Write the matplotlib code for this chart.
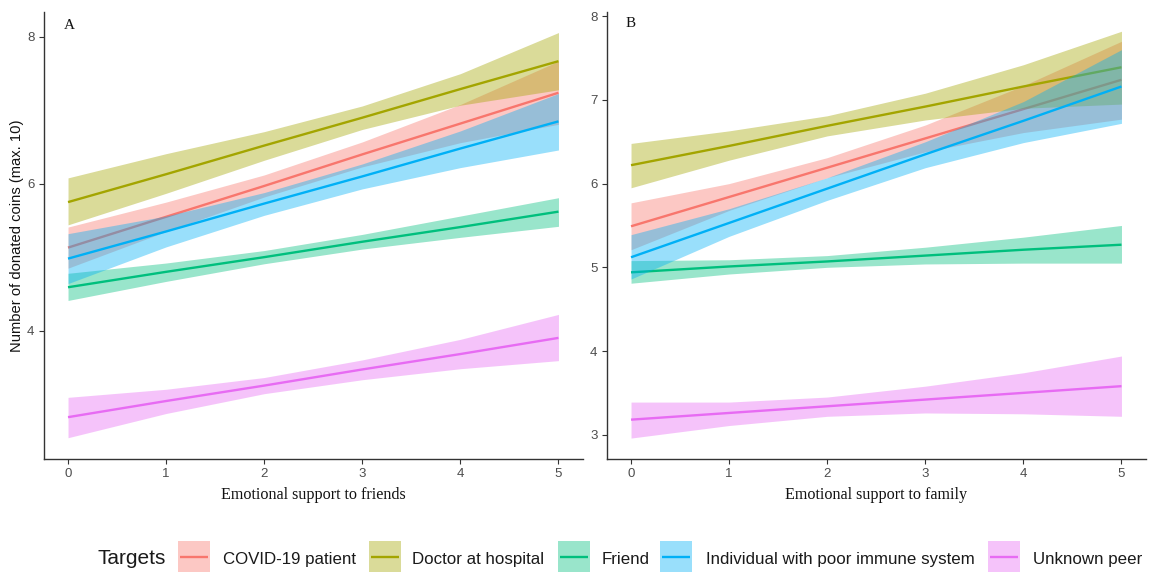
import matplotlib
matplotlib.use("Agg")
import matplotlib.pyplot as plt
from matplotlib.patches import Rectangle
import numpy as np

# ---------------- data ----------------
x_vals = [0, 1, 2, 3, 4, 5]
targets = ["COVID-19 patient", "Doctor at hospital", "Friend",
           "Individual with poor immune system", "Unknown peer"]
colors = ["#F8766D", "#A3A500", "#00BF7D", "#00B0F6", "#E76BF3"]

# Panel A: emotional support to friends
a_covid_fit = [5.13, 5.55, 5.97, 6.40, 6.82, 7.24]
a_covid_hi = [5.41, 5.75, 6.12, 6.57, 7.08, 7.67]
a_covid_lo = [4.85, 5.35, 5.82, 6.23, 6.56, 6.81]
a_doctor_fit = [5.75, 6.13, 6.52, 6.90, 7.29, 7.67]
a_doctor_hi = [6.08, 6.41, 6.71, 7.06, 7.50, 8.06]
a_doctor_lo = [5.44, 5.87, 6.32, 6.74, 7.07, 7.28]
a_friend_fit = [4.59, 4.80, 5.00, 5.21, 5.41, 5.62]
a_friend_hi = [4.78, 4.92, 5.09, 5.31, 5.56, 5.81]
a_friend_lo = [4.41, 4.67, 4.91, 5.11, 5.27, 5.42]
a_immune_fit = [4.98, 5.35, 5.73, 6.10, 6.48, 6.85]
a_immune_hi = [5.32, 5.56, 5.88, 6.27, 6.72, 7.23]
a_immune_lo = [4.64, 5.14, 5.57, 5.93, 6.22, 6.46]
a_peer_fit = [2.82, 3.04, 3.25, 3.47, 3.68, 3.90]
a_peer_hi = [3.09, 3.20, 3.36, 3.60, 3.88, 4.22]
a_peer_lo = [2.54, 2.87, 3.14, 3.33, 3.48, 3.59]

# Panel B: emotional support to family
b_covid_fit = [5.49, 5.84, 6.19, 6.54, 6.89, 7.24]
b_covid_hi = [5.77, 6.00, 6.31, 6.70, 7.17, 7.70]
b_covid_lo = [5.21, 5.68, 6.07, 6.38, 6.61, 6.77]
b_doctor_fit = [6.22, 6.45, 6.69, 6.92, 7.16, 7.39]
b_doctor_hi = [6.48, 6.63, 6.81, 7.08, 7.42, 7.82]
b_doctor_lo = [5.95, 6.28, 6.57, 6.76, 6.90, 6.95]
b_friend_fit = [4.94, 5.01, 5.07, 5.14, 5.21, 5.27]
b_friend_hi = [5.08, 5.09, 5.14, 5.24, 5.36, 5.50]
b_friend_lo = [4.81, 4.92, 5.00, 5.04, 5.05, 5.05]
b_immune_fit = [5.12, 5.53, 5.94, 6.35, 6.75, 7.16]
b_immune_hi = [5.39, 5.70, 6.07, 6.50, 6.98, 7.60]
b_immune_lo = [4.86, 5.37, 5.80, 6.19, 6.49, 6.72]
b_peer_fit = [3.18, 3.26, 3.34, 3.42, 3.50, 3.58]
b_peer_hi = [3.39, 3.39, 3.45, 3.58, 3.74, 3.94]
b_peer_lo = [2.96, 3.11, 3.22, 3.26, 3.25, 3.22]

a_yticks = [4, 6, 8]
b_yticks = [3, 4, 5, 6, 7, 8]
x_labels = ["Emotional support to friends", "Emotional support to family"]
panel_tags = ["A", "B"]
y_label = "Number of donated coins (max. 10)"
legend_title = "Targets"

panel_a = [(a_covid_fit, a_covid_lo, a_covid_hi),
           (a_doctor_fit, a_doctor_lo, a_doctor_hi),
           (a_friend_fit, a_friend_lo, a_friend_hi),
           (a_immune_fit, a_immune_lo, a_immune_hi),
           (a_peer_fit, a_peer_lo, a_peer_hi)]
panel_b = [(b_covid_fit, b_covid_lo, b_covid_hi),
           (b_doctor_fit, b_doctor_lo, b_doctor_hi),
           (b_friend_fit, b_friend_lo, b_friend_hi),
           (b_immune_fit, b_immune_lo, b_immune_hi),
           (b_peer_fit, b_peer_lo, b_peer_hi)]

# ---------------- figure ----------------
W, H = 1155, 572
fig = plt.figure(figsize=(W / 100, H / 100), dpi=100)

def px_rect(x0, x1, ytop, ybot):
    return [x0 / W, 1 - ybot / H, (x1 - x0) / W, (ybot - ytop) / H]

ax_a = fig.add_axes(px_rect(43.5, 583, 12, 459))
ax_b = fig.add_axes(px_rect(606.5, 1146, 12, 459))

ALPHA = 0.4
LW = 1.7
spine_c = "#333333"
tick_lab_c = "#4D4D4D"

for ax, data, ylim, yticks, xl, tag, tagpos in [
        (ax_a, panel_a, (2.25, 8.34), a_yticks, x_labels[0], panel_tags[0], (0.038, 0.969)),
        (ax_b, panel_b, (2.71, 8.05), b_yticks, x_labels[1], panel_tags[1], (0.036, 0.974))]:
    z = 2
    for (fit, lo, hi), c in zip(data, colors):
        ax.fill_between(x_vals, lo, hi, color=c, alpha=ALPHA, linewidth=0, zorder=z)
        ax.plot(x_vals, fit, color=c, lw=LW, zorder=z + 1, solid_capstyle="butt")
        z += 2
    ax.set_xlim(-0.25, 5.25)
    ax.set_ylim(*ylim)
    ax.set_xticks(x_vals)
    ax.set_yticks(yticks)
    for s in ["top", "right"]:
        ax.spines[s].set_visible(False)
    for s in ["left", "bottom"]:
        ax.spines[s].set_color(spine_c)
        ax.spines[s].set_linewidth(1.0)
    ax.tick_params(axis="both", colors=spine_c, labelcolor=tick_lab_c,
                   labelsize=9.5, length=3.5, width=0.8, pad=3)
    for lab in ax.get_xticklabels() + ax.get_yticklabels():
        lab.set_family("Liberation Sans")
    ax.set_xlabel(xl, family="Liberation Serif", fontsize=11.6, color="#111111", labelpad=5)
    ax.text(tagpos[0], tagpos[1], tag, transform=ax.transAxes, family="Liberation Serif",
            fontsize=11, color="#111111", ha="left", va="center")

ax_a.set_ylabel(y_label, family="Liberation Sans", fontsize=10.6, color="#111111")
ax_a.yaxis.set_label_coords(-0.037, 0.5)

# ---------------- legend (drawn in pixel coordinates) ----------------
lax = fig.add_axes([0, 0, 1, 1], zorder=-1)
lax.set_xlim(0, W)
lax.set_ylim(H, 0)
lax.axis("off")

lax.text(97, 558, legend_title, family="Liberation Sans", fontsize=15,
         color="#1a1a1a", ha="left", va="center")
key_x = [178, 369, 558, 660, 988]
text_x = [223, 412, 602, 706, 1033]
key_w = 32
key_top = 541
for kx, tx, c, lab in zip(key_x, text_x, colors, targets):
    lax.add_patch(Rectangle((kx, key_top), key_w, key_w, facecolor=c,
                            alpha=ALPHA, linewidth=0))
    lax.plot([kx + 2, kx + key_w - 2], [557.3, 557.3], color=c, lw=LW,
             solid_capstyle="butt")
    lax.text(tx, 559.5, lab, family="Liberation Sans", fontsize=12.2,
             color="#1a1a1a", ha="left", va="center")

fig.savefig("out.png", dpi=100)
